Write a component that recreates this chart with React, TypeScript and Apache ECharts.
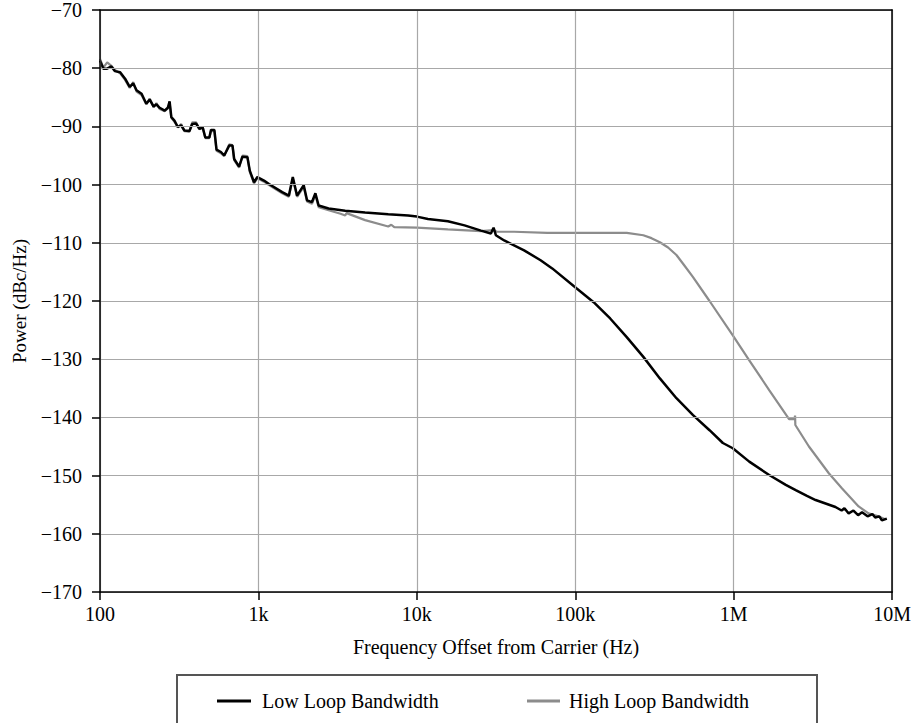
import React, { useEffect, useRef } from "react";
import * as echarts from "echarts";

const lowFreq = [
  100, 105, 110, 118, 124, 134, 144, 154, 162, 170, 183, 196, 206, 218, 227, 238, 256, 268, 275, 282,
  295, 310, 325, 341, 367, 382, 404, 424, 445, 462, 490, 502, 527, 544, 580, 608, 654, 686, 703, 755,
  793, 852, 882, 938, 985, 1084, 1166, 1413, 1556, 1648, 1754, 1932, 2027, 2178, 2289, 2399, 2773,
  3530, 4712, 6597, 8808, 10000, 11750, 15700, 20000, 25390, 29340, 30500, 31530, 35600, 47530,
  60400, 71540, 102600, 130600, 166100, 211300, 269000, 342000, 435100, 553900, 704000, 854300,
  987200, 1254000, 1675000, 2132000, 2463000, 2900000, 3289000, 3800000, 4389000, 4800000, 5000000,
  5318000, 5700000, 6100000, 6457000, 7000000, 7500000, 7823000, 8300000, 8620000, 9262000,
];
const lowPower = [
  -78.7, -80.1, -80.1, -79.7, -80.5, -80.7, -81.8, -83.2, -82.6, -83.8, -84.4, -86.1, -85.4, -86.6,
  -86.2, -86.8, -87.3, -86.8, -85.7, -88.4, -89.0, -90.1, -89.8, -90.7, -90.8, -89.6, -89.5, -90.4,
  -90.2, -91.9, -91.9, -90.6, -90.6, -94.0, -94.4, -95.0, -93.3, -93.3, -95.6, -96.9, -95.2, -95.3,
  -97.6, -99.6, -98.7, -99.3, -99.9, -101.3, -101.9, -98.7, -101.9, -100.1, -102.7, -103.0, -101.5,
  -103.6, -104.1, -104.5, -104.8, -105.1, -105.3, -105.5, -105.9, -106.3, -107.0, -107.9, -108.4,
  -107.4, -108.7, -109.6, -111.3, -113.0, -114.4, -117.9, -120.2, -123.0, -126.2, -129.6, -133.3,
  -136.7, -139.6, -142.2, -144.4, -145.3, -147.6, -149.9, -151.6, -152.5, -153.5, -154.2, -154.8,
  -155.4, -156.0, -155.6, -156.5, -156.0, -156.8, -156.3, -157.0, -156.6, -157.2, -157.0, -157.7,
  -157.4,
];

const highFreq = [
  100, 105, 111, 118, 124, 134, 144, 154, 162, 170, 183, 196, 206, 218, 227, 238, 256, 268, 275, 282,
  295, 310, 325, 341, 367, 382, 404, 424, 445, 462, 490, 502, 527, 544, 580, 608, 654, 686, 703, 755,
  793, 852, 882, 938, 985, 1084, 1166, 1413, 1556, 1648, 1754, 1932, 2027, 2178, 2289, 2399, 2773,
  3300, 3530, 3600, 4712, 6597, 6900, 7200, 10000, 15700, 25390, 30500, 32000, 41130, 66560, 102600,
  211300, 269000, 302700, 342000, 385300, 435100, 488400, 553900, 704000, 987200, 1254000, 1675000,
  2236000, 2420000, 2440000, 2450000, 2985000, 3985000, 4835000, 6146000, 7100000, 8204000, 9036000,
];
const highPower = [
  -78.4, -79.9, -79.0, -79.6, -80.3, -80.9, -82.0, -83.4, -82.4, -84.0, -84.6, -86.2, -85.2, -86.7,
  -86.0, -87.0, -87.4, -86.9, -86.0, -88.5, -89.2, -90.2, -89.6, -90.8, -90.9, -89.3, -89.3, -90.5,
  -90.1, -92.0, -92.0, -90.8, -90.8, -94.2, -94.6, -95.1, -93.1, -93.2, -95.8, -97.1, -95.0, -95.1,
  -97.8, -99.8, -98.9, -99.5, -100.1, -101.5, -102.1, -99.0, -102.1, -100.4, -102.9, -103.3, -101.8,
  -103.9, -104.4, -105.0, -105.3, -104.9, -106.1, -107.2, -106.9, -107.3, -107.4, -107.7, -108.0,
  -107.8, -108.1, -108.1, -108.3, -108.3, -108.3, -108.7, -109.2, -109.9, -110.8, -112.1, -113.9,
  -115.9, -120.0, -125.9, -130.2, -135.3, -140.3, -140.3, -139.7, -141.3, -145.0, -149.6, -152.2,
  -155.3, -156.5, -157.0, -157.5,
];

const xTickLabels: Record<number, string> = {
  100: "100",
  1000: "1k",
  10000: "10k",
  100000: "100k",
  1000000: "1M",
  10000000: "10M",
};

const seriesNames = ["Low Loop Bandwidth", "High Loop Bandwidth"];

const FONT = "'Liberation Serif', 'Times New Roman', serif";

export default function App() {
  const ref = useRef<HTMLDivElement>(null);
  useEffect(() => {
    if (!ref.current) return;
    const chart = echarts.init(ref.current, null, { renderer: "svg" });
    const lowData = lowFreq.map((f, i) => [f, lowPower[i]]);
    const highData = highFreq.map((f, i) => [f, highPower[i]]);
    const fmtX = (v: number) => {
      for (const key of Object.keys(xTickLabels)) {
        const n = Number(key);
        if (Math.abs(n - v) / n < 1e-6) return xTickLabels[n];
      }
      return "";
    };
    const frameX = {
      type: "log",
      logBase: 10,
      min: 100,
      max: 10000000,
      position: "top",
      axisLine: { show: true, lineStyle: { color: "#000", width: 1.5 } },
      axisTick: { show: false },
      axisLabel: { show: false },
      splitLine: { show: false },
      z: 5,
    };
    const frameY = {
      type: "value",
      min: -170,
      max: -70,
      interval: 10,
      position: "right",
      axisLine: { show: true, lineStyle: { color: "#000", width: 1.5 } },
      axisTick: { show: false },
      axisLabel: { show: false },
      splitLine: { show: false },
      z: 5,
    };
    chart.setOption({
      animation: false,
      backgroundColor: "#fff",
      textStyle: { fontFamily: FONT, color: "#000" },
      grid: {
        left: 100,
        right: 17,
        top: 9.5,
        bottom: 131,
        show: false,
        containLabel: false,
      },
      xAxis: [
        {
          type: "log",
          logBase: 10,
          min: 100,
          max: 10000000,
          name: "Frequency Offset from Carrier (Hz)",
          nameLocation: "middle",
          nameGap: 45,
          nameTextStyle: { fontFamily: FONT, fontSize: 20, color: "#000" },
          axisLine: { lineStyle: { color: "#000", width: 1.5 } },
          axisTick: { show: true, length: 8, lineStyle: { color: "#000", width: 1.5 } },
          axisLabel: {
            margin: 12,
            fontFamily: FONT,
            fontSize: 20,
            color: "#000",
            formatter: fmtX,
            showMinLabel: true,
            showMaxLabel: true,
          },
          splitLine: { show: true, lineStyle: { color: "#a8a8a8", width: 1.2 } },
          minorTick: { show: false },
          minorSplitLine: { show: false },
          z: 5,
        },
        frameX,
      ],
      yAxis: [
        {
          type: "value",
          min: -170,
          max: -70,
          interval: 10,
          name: "Power (dBc/Hz)",
          nameLocation: "middle",
          nameGap: 71,
          nameTextStyle: { fontFamily: FONT, fontSize: 19, color: "#000" },
          axisLine: { show: true, lineStyle: { color: "#000", width: 1.5 } },
          axisTick: { show: true, length: 8, lineStyle: { color: "#000", width: 1.5 } },
          axisLabel: {
            margin: 18,
            fontFamily: FONT,
            fontSize: 20,
            color: "#000",
            formatter: (v: number) => (v < 0 ? "\u2212" + Math.abs(v) : String(v)),
          },
          splitLine: { show: true, lineStyle: { color: "#a8a8a8", width: 1.2 } },
          z: 5,
        },
        frameY,
      ],
      legend: [
        {
          data: [seriesNames[0]],
          left: 217,
          top: 691,
          icon: "rect",
          itemWidth: 34,
          itemHeight: 3,
          padding: 0,
          textStyle: { fontFamily: FONT, fontSize: 20, color: "#000", padding: [0, 0, 0, 6] },
        },
        {
          data: [seriesNames[1]],
          left: 527,
          top: 691,
          icon: "rect",
          itemWidth: 33,
          itemHeight: 3,
          padding: 0,
          textStyle: { fontFamily: FONT, fontSize: 20, color: "#000", padding: [0, 0, 0, 4] },
        },
      ],
      graphic: [
        {
          type: "rect",
          shape: { x: 177, y: 675, width: 640, height: 70 },
          style: { fill: "none", stroke: "#555", lineWidth: 2 },
          silent: true,
        },
      ],
      series: [
        {
          name: seriesNames[1],
          type: "line",
          data: highData,
          showSymbol: false,
          symbol: "none",
          lineStyle: { color: "#8c8c8c", width: 2.2 },
          itemStyle: { color: "#8c8c8c" },
          z: 2,
        },
        {
          name: seriesNames[0],
          type: "line",
          data: lowData,
          showSymbol: false,
          symbol: "none",
          lineStyle: { color: "#000", width: 2.5 },
          itemStyle: { color: "#000" },
          z: 3,
        },
      ],
    });
    return () => chart.dispose();
  }, []);
  return (
    <div
      ref={ref}
      style={{ position: "fixed", left: 0, top: 0, width: 914, height: 723, background: "#fff" }}
    />
  );
}
